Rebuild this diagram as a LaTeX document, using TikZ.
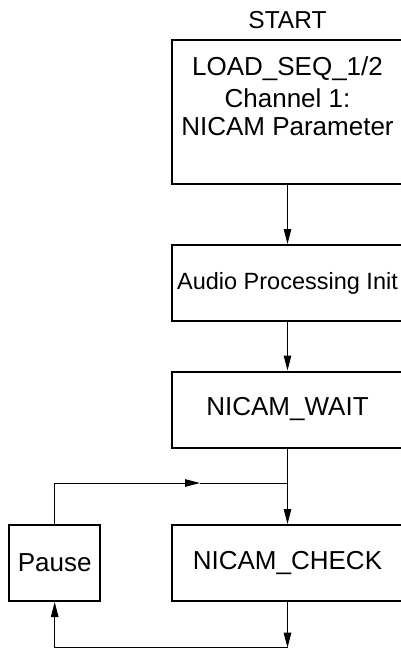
\documentclass[tikz,border=0pt]{standalone}
\usepackage{fontspec}
\setmainfont{Liberation Sans}
\usetikzlibrary{arrows.meta}
\tikzset{
  stepbox/.style={draw, line width=2pt, minimum width=231pt, minimum height=76pt, inner sep=0pt, font=\fontsize{26}{28}\selectfont},
  flow/.style={line width=1pt, -{Triangle[length=15pt,width=7.5pt]}},
}

\begin{document}
\begin{tikzpicture}[x=1pt,y=-1pt]
        \useasboundingbox (0,0) rectangle (401,651);
        % main column
        \node[anchor=base, font=\fontsize{24.5}{28}\selectfont] (start) at (287.5,28) {START};
        \node[stepbox, minimum height=144pt] (load) at (287.5,112) {};
        \node[anchor=base, font=\fontsize{26}{28}\selectfont] (loadname) at (287.5,75) {LOAD\_SEQ\_1/2};
        \node[anchor=base, font=\fontsize{26}{28}\selectfont] (loadchan) at (287.5,107) {Channel 1:};
        \node[anchor=base, font=\fontsize{26}{28}\selectfont] (loadpar) at (287.5,135) {NICAM Parameter};
        \node[stepbox, font=\fontsize{23.5}{28}\selectfont] (audio) at (287.5,283) {Audio Processing Init};
        \node[stepbox] (wait) at (287.5,409.5) {NICAM\_WAIT};
        \node[stepbox] (check) at (287.5,563) {NICAM\_CHECK};
        \node[stepbox, minimum width=91pt] (pause) at (54.7,563) {Pause};
        % connectors
        \coordinate (join) at (287.5,483);
        \coordinate (midtip) at (200,483);
        \coordinate (lowjoin) at (287.5,647.7);
        \draw[flow] (load) -- (audio);
        \draw[flow] (audio) -- (wait);
        \draw[flow] (wait) -- (check);
        \draw[flow] (pause.north) |- (midtip);
        \draw[line width=1pt] (midtip) -- (join);
        \draw[flow] (check) -- (lowjoin);
        \draw[flow] (lowjoin) -| (pause.south);
    \end{tikzpicture}
\end{document}
